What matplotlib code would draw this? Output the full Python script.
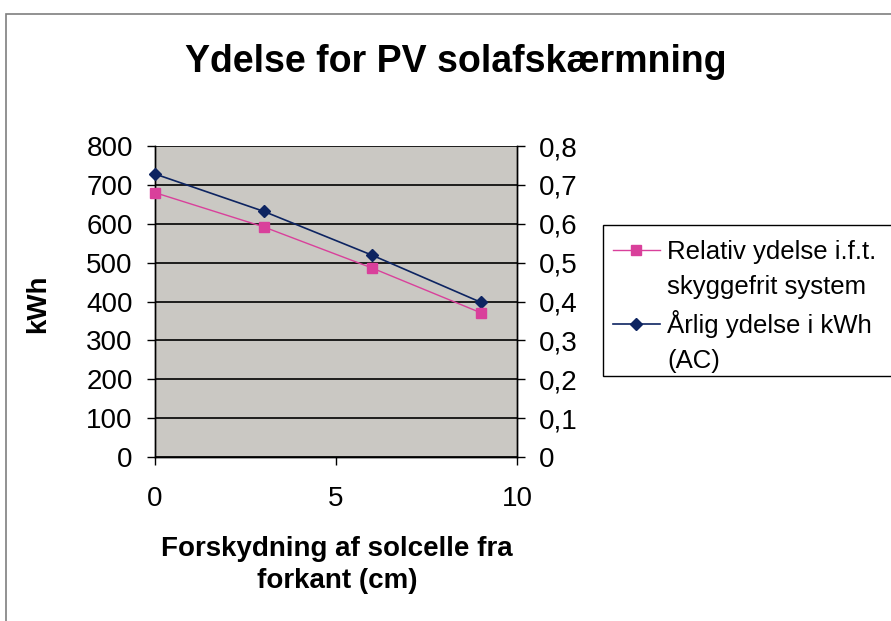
import matplotlib.pyplot as plt
from matplotlib.lines import Line2D
from matplotlib.patches import Rectangle

plt.rcParams['font.family'] = ['Liberation Sans', 'DejaVu Sans']

# data
forskydning = [0, 3, 6, 9]
aarlig_kwh = [728, 632, 519, 398]
relativ = [0.680, 0.592, 0.486, 0.371]

navy = '#0d2461'
pink = '#d9409b'

fig = plt.figure(figsize=(8.91, 6.21), dpi=100)
fig.patch.set_facecolor('white')

# outer chart border (runs off the image on right and bottom)
fig.patches.append(Rectangle((6 / 891, -0.2), 1.5, 1.2 - 14 / 621,
                             transform=fig.transFigure, fill=False,
                             edgecolor='#7f7f7f', linewidth=1.2))
# legend box, also cut by the right edge
fig.patches.append(Rectangle((603 / 891, 1 - 376 / 621), 0.5, 151 / 621,
                             transform=fig.transFigure, facecolor='white',
                             edgecolor='black', linewidth=1.0))

ax = fig.add_axes([155 / 891, 1 - 457 / 621, (517 - 155) / 891, (457 - 146) / 621])
ax.set_facecolor('#cac8c3')
ax2 = ax.twinx()
ax.set_zorder(1)
ax2.set_zorder(2)
ax2.patch.set_visible(False)

l_kwh, = ax2.plot(forskydning, [v / 1000 for v in aarlig_kwh], color=navy, lw=1.2,
                  marker='D', ms=6.5, zorder=3, clip_on=False)
l_rel, = ax2.plot(forskydning, relativ, color=pink, lw=1.0, marker='s', ms=7.5,
                  zorder=4, clip_on=False)

ax.set_xlim(0, 10)
ax.set_ylim(0, 800)
ax2.set_ylim(0, 0.8)
ax.set_xticks([0, 5, 10])
ax.set_yticks(range(0, 801, 100))
ax2.set_yticks([i / 10 for i in range(9)])
ax2.set_yticklabels(['0'] + ['0,%d' % i for i in range(1, 9)])

ax.grid(axis='y', color='black', lw=1.2)
ax.set_axisbelow(True)

for a in (ax, ax2):
    for s in a.spines.values():
        s.set_color('black')
        s.set_linewidth(1.0)
    a.spines['top'].set_visible(False)
    a.tick_params(direction='out', length=6, width=1.0, labelsize=20, colors='black', pad=10)
ax.tick_params(axis='x', pad=15)

fig.text(38 / 891, 1 - 304 / 621, 'kWh', rotation=90, ha='center', va='center',
         fontsize=20, fontweight='bold')
fig.text(337 / 891, 1 - 565 / 621, 'Forskydning af solcelle fra\nforkant (cm)',
         ha='center', va='center', fontsize=20, fontweight='bold', linespacing=1.35)
fig.text(456 / 891, 1 - 62 / 621, 'Ydelse for PV solafskærmning',
         ha='center', va='center', fontsize=27, fontweight='bold')

# legend: handle sits on the first line of each two-line label, like Excel
blank = Line2D([], [], linestyle='none')
handles = [l_rel, blank, l_kwh, blank]
labels = ['Relativ ydelse i.f.t.', 'skyggefrit system', 'Årlig ydelse i kWh', '(AC)']
leg = fig.legend(handles, labels,
                 loc='upper left', bbox_to_anchor=(603 / 891, 1 - 230 / 621),
                 fontsize=18.5, frameon=False, handlelength=1.8, handletextpad=0.3,
                 borderpad=0.4, labelspacing=0.42, borderaxespad=0)

fig.savefig('out.png', dpi=100)
